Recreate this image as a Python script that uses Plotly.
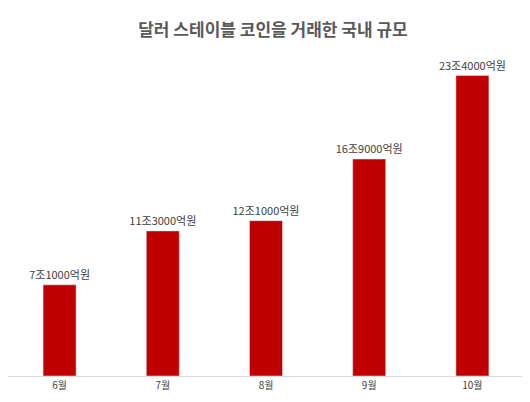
import plotly.graph_objects as go

months = ["6월", "7월", "8월", "9월", "10월"]
values = [71000, 113000, 121000, 169000, 234000]  # 억원
labels = ["7조1000억원", "11조3000억원", "12조1000억원", "16조9000억원", "23조4000억원"]

fig = go.Figure(go.Bar(
    x=months, y=values, text=labels, textposition="outside",
    marker_color="#C00000", cliponaxis=False, constraintext="none",
    textfont=dict(size=11, color="#404040"),
))
fig.update_layout(
    width=530, height=402,
    margin=dict(l=0, r=14, t=47, b=34),
    paper_bgcolor="white", plot_bgcolor="white",
    font=dict(family="Noto Sans CJK KR"),
    title=dict(text="<b>달러 스테이블 코인을 거래한 국내 규모</b>", x=0.5, y=0.96,
               xanchor="center", font=dict(size=17, color="#595959")),
    bargap=0.68, showlegend=False,
    uniformtext=dict(minsize=11, mode="show"),
)
fig.update_yaxes(range=[0, 250000], visible=False)
fig.update_xaxes(showline=True, linecolor="#D9D9D9", ticks="",
                 tickfont=dict(size=10, color="#404040"))
fig.write_html("out.html")
